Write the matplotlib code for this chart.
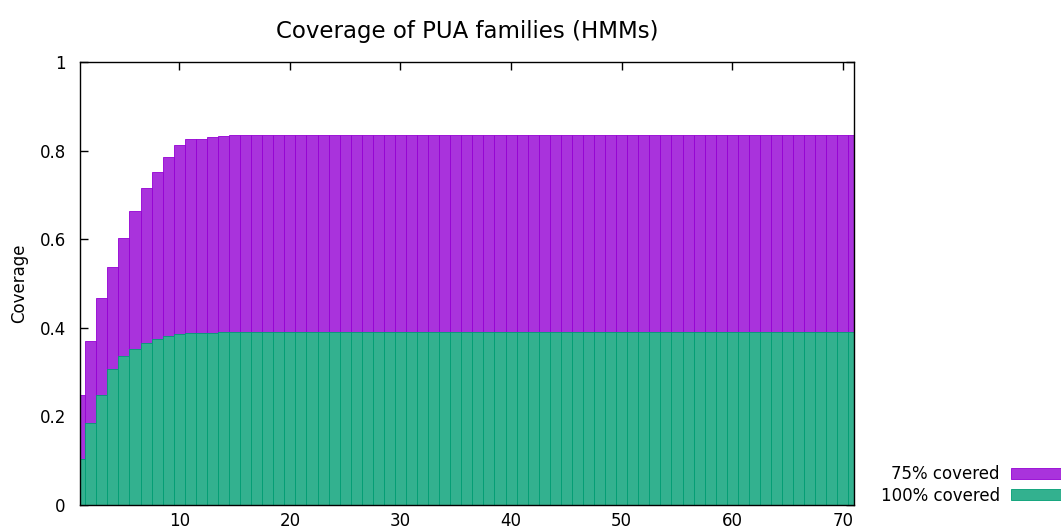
import matplotlib
matplotlib.use("Agg")
import matplotlib.pyplot as plt
from matplotlib.patches import Patch

plt.rcParams['font.family'] = ['DejaVu Sans']

# Number of HMMs considered (x) and cumulative coverage of PUA families
n_hmms = list(range(1, 72))
covered_75 = [0.248, 0.370, 0.467, 0.537, 0.602, 0.663, 0.715, 0.752, 0.785, 0.813,
              0.825, 0.827, 0.831, 0.833, 0.834] + [0.836] * 56
covered_100 = [0.103, 0.184, 0.247, 0.306, 0.335, 0.351, 0.365, 0.374, 0.380, 0.386,
               0.387, 0.389, 0.389, 0.391, 0.391] + [0.391] * 56

series_labels = ["75% covered", "100% covered"]
x_ticks = [10, 20, 30, 40, 50, 60, 70]
y_ticks = [0, 0.2, 0.4, 0.6, 0.8, 1]
y_tick_labels = ["0", "0.2", "0.4", "0.6", "0.8", "1"]

line_violet = "#9400d3"
fill_violet = "#a933dc"
line_green = "#009e73"
fill_green = "#33b18f"

fig = plt.figure(figsize=(10.61, 5.29), dpi=100)
ax = fig.add_axes([0.0751, 0.0459, 0.7298, 0.8369])

ax.bar(n_hmms, covered_75, width=1.0, color=fill_violet, edgecolor=line_violet,
       linewidth=0.6, label=series_labels[0])
ax.bar(n_hmms, covered_100, width=1.0, color=fill_green, edgecolor=line_green,
       linewidth=0.6, label=series_labels[1])

ax.set_xlim(1, 71)
ax.set_ylim(0, 1)
ax.set_xticks(x_ticks)
ax.set_yticks(y_ticks)
ax.set_yticklabels(y_tick_labels)
ax.set_axisbelow(True)
ax.tick_params(direction="in", top=True, right=True, length=6, width=1,
               labelsize=12, color="black")
ax.tick_params(axis="x", pad=5)
ax.tick_params(axis="y", pad=10)
for sp in ax.spines.values():
    sp.set_linewidth(1)
    sp.set_color("black")

ax.set_ylabel("Coverage", fontsize=12, labelpad=8)
ax.set_title("Coverage of PUA families (HMMs)", fontsize=16.5, pad=17)

handles = [Patch(facecolor=fill_violet, edgecolor=line_violet, linewidth=0.6),
           Patch(facecolor=fill_green, edgecolor=line_green, linewidth=0.6)]
fig.legend(handles, series_labels, loc="lower right",
           bbox_to_anchor=(1.005, 0.046), bbox_transform=fig.transFigure,
           markerfirst=False, frameon=False, fontsize=12,
           handlelength=3.3, handleheight=0.65, handletextpad=0.7,
           labelspacing=0.2, borderpad=0, borderaxespad=0)

fig.savefig("out.png", dpi=100)
